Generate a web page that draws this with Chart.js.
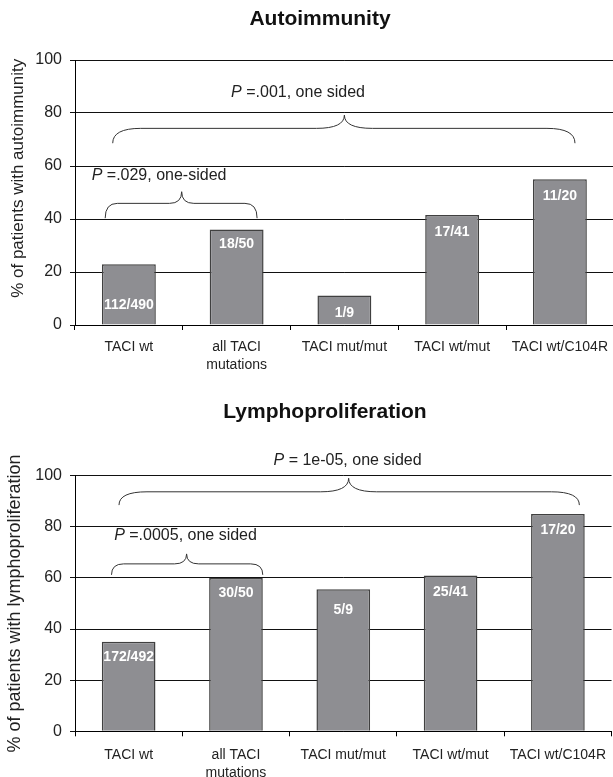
<!DOCTYPE html>
<html>
<head>
<meta charset="utf-8">
<script src="https://cdn.jsdelivr.net/npm/chart.js@4.4.1/dist/chart.umd.min.js"></script>
<style>
  html, body { margin: 0; padding: 0; background: #fff; overflow: hidden; width: 613px; height: 777px; }
  .box { position: relative; width: 616px; }
  #b1 { height: 390px; }
  #b2 { height: 387px; }
</style>
</head>
<body>
<div class="box" id="b1"><canvas id="c1"></canvas></div>
<div class="box" id="b2"><canvas id="c2"></canvas></div>
<script>
// data
const categories = ['TACI wt', ['all TACI', 'mutations'], 'TACI mut/mut', 'TACI wt/mut', 'TACI wt/C104R'];
const yTicks = [0, 20, 40, 60, 80, 100];

const autoPct = [22.9, 36, 11.1, 41.5, 55];
const autoCounts = ['112/490', '18/50', '1/9', '17/41', '11/20'];
const autoP = ['=.029, one-sided', '=.001, one sided'];

const lymphPct = [35, 60, 55.6, 61, 85];
const lymphCounts = ['172/492', '30/50', '5/9', '25/41', '17/20'];
const lymphP = ['=.0005, one sided', '= 1e-05, one sided'];

// layout of braces (category index / axis value units)
const autoBraces = [
  { x0: -0.22, x1: 1.19, xm: 0.49, yEnd: 40.3, yFlat: 45.9, yPeak: 50.3, tx: 0.28, ty: 56.4 },
  { x0: -0.15, x1: 4.14, xm: 2.0, yEnd: 68.6, yFlat: 74.2, yPeak: 79.2, tx: 1.57, ty: 87.7 }
];
const lymphBraces = [
  { x0: -0.16, x1: 1.25, xm: 0.54, yEnd: 61.2, yFlat: 65.5, yPeak: 69.4, tx: 0.53, ty: 76.4 },
  { x0: -0.09, x1: 4.2, xm: 2.05, yEnd: 88.5, yFlat: 93.7, yPeak: 99, tx: 2.04, ty: 106.1 }
];
const autoDrops = [41, 15, 18, 17, 17];
const lymphDrops = [15, 15, 21, 17, 16];

const FAMILY = '"Liberation Sans", Arial, Helvetica, sans-serif';

function drawBrace(ctx, x0, x1, xm, yE, yF, yP) {
  const r = Math.min(28, (x1 - x0) * 0.08);
  ctx.beginPath();
  ctx.moveTo(x0, yE);
  ctx.quadraticCurveTo(x0, yF, x0 + r, yF);
  ctx.lineTo(xm - r, yF);
  ctx.quadraticCurveTo(xm, yF, xm, yP);
  ctx.quadraticCurveTo(xm, yF, xm + r, yF);
  ctx.lineTo(x1 - r, yF);
  ctx.quadraticCurveTo(x1, yF, x1, yE);
  ctx.stroke();
}

function drawPText(ctx, s, cx, cy) {
  const f = '16px ' + FAMILY;
  ctx.font = 'italic ' + f;
  const wp = ctx.measureText('P').width;
  ctx.font = f;
  const wr = ctx.measureText(' ' + s).width;
  const x = cx - (wp + wr) / 2;
  ctx.textAlign = 'left';
  ctx.textBaseline = 'middle';
  ctx.fillStyle = '#222';
  ctx.font = 'italic ' + f;
  ctx.fillText('P', x, cy);
  ctx.font = f;
  ctx.fillText(' ' + s, x + wp, cy);
}

const annot = {
  id: 'annot',
  afterDatasetsDraw(chart, args, o) {
    const ctx = chart.ctx;
    const xs = chart.scales.x, ys = chart.scales.y;
    ctx.save();
    ctx.font = 'bold 14px ' + FAMILY;
    ctx.fillStyle = '#fff';
    ctx.textAlign = 'center';
    ctx.textBaseline = 'middle';
    chart.getDatasetMeta(0).data.forEach((bar, i) => {
      ctx.fillText(o.counts[i], bar.x, bar.y + o.drops[i]);
    });
    ctx.strokeStyle = '#333';
    ctx.lineWidth = 1;
    o.braces.forEach((b, i) => {
      drawBrace(ctx,
        xs.getPixelForValue(b.x0), xs.getPixelForValue(b.x1), xs.getPixelForValue(b.xm),
        ys.getPixelForValue(b.yEnd), ys.getPixelForValue(b.yFlat), ys.getPixelForValue(b.yPeak));
      drawPText(ctx, o.pTexts[i], xs.getPixelForValue(b.tx), ys.getPixelForValue(b.ty));
    });
    ctx.restore();
  }
};

function makeChart(id, title, yTitle, values, counts, pTexts, braces, drops, lay) {
  return new Chart(document.getElementById(id), {
    type: 'bar',
    data: {
      labels: categories,
      datasets: [{
        data: values,
        backgroundColor: '#8e8e92',
        borderColor: '#404040',
        borderWidth: 1.5,
        barPercentage: 0.5,
        categoryPercentage: 1.0
      }]
    },
    options: {
      responsive: true,
      maintainAspectRatio: false,
      animation: false,
      layout: { padding: { left: lay.padL, right: 0, top: 0, bottom: 0 } },
      plugins: {
        legend: { display: false },
        tooltip: { enabled: false },
        title: {
          display: true,
          text: title,
          color: '#111',
          font: { size: 21, weight: 'bold', family: FAMILY },
          padding: { top: lay.titleTop, bottom: lay.titleBottom }
        },
        annot: { counts: counts, pTexts: pTexts, braces: braces, drops: drops }
      },
      scales: {
        x: {
          grid: { offset: true, drawOnChartArea: false, tickLength: 5, color: '#000' },
          border: { color: '#000' },
          ticks: {
            color: '#222',
            font: { size: 14, family: FAMILY, lineHeight: 1.3 },
            padding: lay.xTickPad,
            maxRotation: 0,
            autoSkip: false
          },
          afterFit: s => { s.height = lay.xAxisH; }
        },
        y: {
          min: yTicks[0],
          max: yTicks[yTicks.length - 1],
          afterBuildTicks: s => { s.ticks = yTicks.map(v => ({ value: v })); },
          grid: { color: '#111', tickLength: 5 },
          border: { color: '#000' },
          ticks: { color: '#222', font: { size: 16, family: FAMILY }, padding: 8 },
          title: {
            display: true,
            text: yTitle,
            color: '#222',
            font: { size: lay.yTitleSize, family: FAMILY },
            padding: { top: lay.yTitlePad, bottom: 0 }
          },
          afterFit: s => { s.width = 75 - lay.padL; }
        }
      }
    },
    plugins: [annot]
  });
}

// leading spaces nudge the first axis title up, as in the figure
makeChart('c1', 'Autoimmunity', '      % of patients with autoimmunity',
  autoPct, autoCounts, autoP, autoBraces, autoDrops,
  { padL: 24, titleTop: 6.4, titleBottom: 28.4, xAxisH: 65, xTickPad: 8, yTitlePad: -15.5, yTitleSize: 17 });

makeChart('c2', 'Lymphoproliferation', '% of patients with lymphoproliferation',
  lymphPct, lymphCounts, lymphP, lymphBraces, lymphDrops,
  { padL: 34, titleTop: 9.9, titleBottom: 50.6, xAxisH: 45.7, xTickPad: 10, yTitlePad: -29.5, yTitleSize: 18 });
</script>
</body>
</html>
